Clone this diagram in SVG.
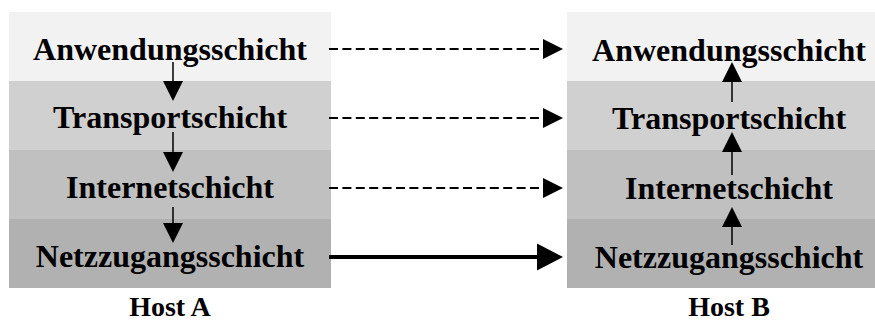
<svg xmlns="http://www.w3.org/2000/svg" width="875" height="323" viewBox="0 0 875 323">
  <defs>
    <style>
      .lbl { font-family: "Liberation Serif", "Times New Roman", serif; font-weight: bold; font-size: 32px; fill: #000; text-anchor: middle; }
      .host { font-family: "Liberation Serif", "Times New Roman", serif; font-weight: bold; font-size: 28px; fill: #000; text-anchor: middle; }
      .l1 { fill: #f2f2f2; }
      .l2 { fill: #d0d0d0; }
      .l3 { fill: #c0c0c0; }
      .l4 { fill: #b1b1b1; }
      .stack { stroke: #000; stroke-width: 1.5; fill: none; }
      .peer { stroke: #000; stroke-width: 2; stroke-dasharray: 9 4.4; fill: none; }
      .phys { stroke: #000; stroke-width: 4; fill: none; }
    </style>
    <marker id="head" markerUnits="userSpaceOnUse" markerWidth="20" markerHeight="20" refX="0" refY="10" orient="auto" overflow="visible">
      <path d="M0,0 L20,10 L0,20 Z" fill="#000"/>
    </marker>
    <marker id="headBig" markerUnits="userSpaceOnUse" markerWidth="26" markerHeight="27" refX="0" refY="13.5" orient="auto" overflow="visible">
      <path d="M0,0 L26,13.5 L0,27 Z" fill="#000"/>
    </marker>
  </defs>

  <rect width="875" height="323" fill="#fff"/>

  <!-- Host A protocol stack -->
  <g id="hostA">
    <g id="a-anwendung">
      <rect class="l1" x="9" y="12" width="322" height="69"/>
      <text class="lbl" x="170" y="60">Anwendungsschicht</text>
    </g>
    <g id="a-transport">
      <rect class="l2" x="9" y="81" width="322" height="69"/>
      <text class="lbl" x="170" y="128">Transportschicht</text>
    </g>
    <g id="a-internet">
      <rect class="l3" x="9" y="150" width="322" height="69"/>
      <text class="lbl" x="170" y="198">Internetschicht</text>
    </g>
    <g id="a-netz">
      <rect class="l4" x="9" y="219" width="322" height="69"/>
      <text class="lbl" x="170" y="267">Netzzugangsschicht</text>
    </g>
    <text class="host" x="170" y="316">Host A</text>
  </g>

  <!-- Host B protocol stack -->
  <g id="hostB">
    <g id="b-anwendung">
      <rect class="l1" x="567" y="12" width="322" height="69"/>
      <text class="lbl" x="729" y="61">Anwendungsschicht</text>
    </g>
    <g id="b-transport">
      <rect class="l2" x="567" y="81" width="322" height="69"/>
      <text class="lbl" x="729" y="129">Transportschicht</text>
    </g>
    <g id="b-internet">
      <rect class="l3" x="567" y="150" width="322" height="69"/>
      <text class="lbl" x="729" y="199">Internetschicht</text>
    </g>
    <g id="b-netz">
      <rect class="l4" x="567" y="219" width="322" height="69"/>
      <text class="lbl" x="729" y="268">Netzzugangsschicht</text>
    </g>
    <text class="host" x="729" y="316">Host B</text>
  </g>

  <!-- Connectors -->
  <g id="connectors">
    <!-- down the sending stack -->
    <line class="stack" x1="173" y1="62" x2="173" y2="81" marker-end="url(#head)"/>
    <line class="stack" x1="173" y1="132" x2="173" y2="152" marker-end="url(#head)"/>
    <line class="stack" x1="173" y1="207" x2="173" y2="223" marker-end="url(#head)"/>
    <!-- up the receiving stack -->
    <line class="stack" x1="732" y1="102" x2="732" y2="82" marker-end="url(#head)"/>
    <line class="stack" x1="732" y1="175" x2="732" y2="152" marker-end="url(#head)"/>
    <line class="stack" x1="732" y1="245" x2="732" y2="227" marker-end="url(#head)"/>
    <!-- logical peer communication -->
    <line class="peer" x1="329" y1="49" x2="543" y2="49" marker-end="url(#head)"/>
    <line class="peer" x1="329" y1="118" x2="543" y2="118" marker-end="url(#head)"/>
    <line class="peer" x1="329" y1="188" x2="543" y2="188" marker-end="url(#head)"/>
    <!-- physical transmission -->
    <line class="phys" x1="329" y1="257" x2="537" y2="257" marker-end="url(#headBig)"/>
  </g>
</svg>
